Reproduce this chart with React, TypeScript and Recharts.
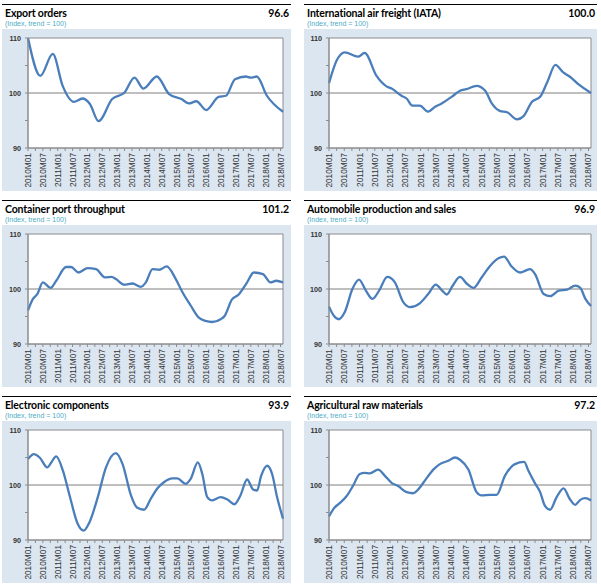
import React from "react";
import {
  CartesianGrid,
  Line,
  LineChart,
  ReferenceArea,
  ReferenceLine,
  XAxis,
  YAxis,
} from "recharts";

// [month index from 2010M01, index value]
const exportOrders: [number, number][] = [
  [0, 110], [5, 103.1], [10, 107.1], [14, 101.3], [18.5, 98.4], [22, 99.0],
  [25, 98.0], [28.5, 94.9], [34, 98.9], [39, 100.1], [43, 102.8], [46.6, 100.8],
  [52, 103.0], [57, 99.8], [62, 98.9], [65, 98.1], [68, 98.5], [72, 96.9],
  [77, 99.3], [80, 99.5], [83.6, 102.5], [88, 103.0], [90, 102.8], [92.4, 103.0],
  [96.5, 99.5], [103, 96.6],
];

const airFreight: [number, number][] = [
  [0, 101.8], [3, 105.9], [6.2, 107.4], [11.4, 106.6], [14, 107.3], [18.7, 103.1],
  [22.6, 101.2], [24.6, 100.8], [28.5, 99.5], [30.5, 99.0], [32.8, 97.7],
  [35.7, 97.7], [39, 96.6], [41.7, 97.5], [44.3, 98.1], [48.2, 99.3], [51.5, 100.4],
  [54, 100.7], [58, 101.3], [61.4, 100.4], [64, 98.1], [67.3, 96.7], [70, 96.5],
  [73.9, 95.2], [76.5, 95.8], [79.8, 98.4], [83, 99.3], [86, 102.2], [89, 105.1],
  [92.2, 103.7], [94.6, 103.0], [98, 101.6], [103, 100.0],
];

const containerPorts: [number, number][] = [
  [0, 96.1], [2, 98.2], [3.8, 99.1], [6, 101.2], [9.1, 100.2], [11.4, 101.5],
  [15.4, 104.0], [17.4, 104.0], [20.4, 103.0], [24.1, 103.8], [27.5, 103.6],
  [31.1, 102.1], [33.8, 102.2], [35.5, 101.8], [38.9, 100.8], [42.2, 101.0],
  [45.6, 100.4], [47.6, 101.2], [50.3, 103.6], [53, 103.5], [56, 104.1],
  [59.7, 101.8], [62.4, 99.4], [65.7, 97.0], [69, 94.8], [71.7, 94.2], [74.4, 94.0],
  [77.8, 94.5], [79.4, 95.1], [82.4, 98.1], [85.1, 99.0], [88.5, 101.2],
  [91.2, 103.0], [94.9, 102.7], [97.9, 101.2], [100.3, 101.5], [103, 101.2],
];

const automobiles: [number, number][] = [
  [0, 96.8], [1.8, 95.2], [3.9, 94.5], [6.2, 95.8], [9.2, 100.0], [11.8, 101.7],
  [14.5, 99.7], [17.1, 98.2], [19.7, 99.7], [22.9, 102.2], [25.9, 101.2],
  [29.2, 97.6], [31.8, 96.7], [35.7, 97.4], [39, 99.1], [42, 100.8], [44.3, 99.8],
  [46.3, 99.0], [48.6, 100.6], [51.5, 102.2], [54.1, 101.0], [56.8, 100.2],
  [60, 102.1], [63.3, 104.2], [66.6, 105.6], [68.8, 105.9], [71.8, 104.1],
  [75.1, 103.0], [79, 103.6], [81, 102.7], [84.4, 99.1], [87, 98.7], [90.3, 99.7],
  [93.6, 99.9], [96.8, 100.6], [98.8, 100.2], [100.8, 98.2], [103, 96.9],
];

const electronics: [number, number][] = [
  [0, 104.7], [2.4, 105.6], [4.7, 105.0], [7.8, 103.2], [9.4, 104.1], [11.4, 105.2],
  [14.1, 102.6], [16.8, 98.1], [20.1, 92.9], [22.5, 91.7], [24.8, 93.2],
  [28.2, 97.8], [31.5, 103.2], [35.5, 105.8], [38.2, 103.8], [41.6, 98.1],
  [44, 95.9], [46.9, 95.5], [49.6, 97.5], [52.3, 99.4], [54.9, 100.5], [58.3, 101.2],
  [60.3, 101.2], [63.7, 100.2], [65.7, 101.1], [68.6, 104.1], [70.4, 102.0],
  [72.4, 97.8], [74.4, 97.2], [77.8, 97.8], [80.7, 97.3], [83.4, 96.5], [85.8, 98.1],
  [88.5, 101.0], [90.9, 99.2], [92.5, 99.0], [94.2, 101.7], [96.6, 103.5],
  [98.6, 102.0], [100.6, 97.8], [103, 93.9],
];

const agriculture: [number, number][] = [
  [0, 94.3], [2.2, 95.9], [4.2, 96.7], [6.8, 97.9], [9.5, 99.9], [12.1, 102.0],
  [14, 102.2], [16, 102.1], [19.3, 102.8], [21.9, 101.7], [24.6, 100.4],
  [27.2, 99.8], [30.5, 98.7], [33.1, 98.5], [35.1, 99.2], [37.7, 100.8], [41, 102.8],
  [43.6, 103.8], [46.9, 104.4], [49.5, 105.0], [51.5, 104.6], [54.8, 102.8],
  [58, 98.7], [60, 98.1], [63.3, 98.2], [65.9, 98.2], [69.2, 101.7], [73.1, 103.8],
  [76.7, 104.2], [78.4, 102.6], [81, 100.3], [83, 98.7], [84.9, 96.2], [86.9, 95.5],
  [89.5, 97.8], [92.2, 99.4], [94.6, 97.5], [96.8, 96.4], [98.8, 97.3],
  [100.8, 97.6], [103, 97.2],
];

const tickLabels = [
  "2010M01", "2010M07", "2011M01", "2011M07", "2012M01", "2012M07",
  "2013M01", "2013M07", "2014M01", "2014M07", "2015M01", "2015M07",
  "2016M01", "2016M07", "2017M01", "2017M07", "2018M01", "2018M07",
];
const xTicks = Array.from({ length: 35 }, (_, i) => i * 3);
const yTicks = [90, 95, 100, 105, 110];

const panels = [
  { title: "Export orders", latest: "96.6", data: exportOrders },
  { title: "International air freight (IATA)", latest: "100.0", data: airFreight },
  { title: "Container port throughput", latest: "101.2", data: containerPorts },
  { title: "Automobile production and sales", latest: "96.9", data: automobiles },
  { title: "Electronic components", latest: "93.9", data: electronics },
  { title: "Agricultural raw materials", latest: "97.2", data: agriculture },
];

const AXIS = "#8c8c8c";

const XTick = (props: any) => {
  const { x, y, payload } = props;
  const v = payload.value;
  if (v % 6 !== 0) return <g />;
  return (
    <text
      transform={`translate(${x + 3},${y}) rotate(-90)`}
      textAnchor="end"
      fontSize={8.3}
      fill="#333"
      fontFamily="'Liberation Sans', Arial, sans-serif"
    >
      {tickLabels[v / 6]}
    </text>
  );
};

const YTick = (props: any) => {
  const { x, y, payload } = props;
  if (payload.value % 10 !== 0) return <g />;
  return (
    <text
      x={x - 2}
      y={y}
      dy="0.35em"
      textAnchor="end"
      fontSize={7.2}
      fontWeight="bold"
      fill="#333"
      fontFamily="'Liberation Sans', Arial, sans-serif"
    >
      {payload.value}
    </text>
  );
};

function Panel({ p, col, row }: { p: (typeof panels)[number]; col: number; row: number }) {
  const left = col === 0 ? 2 : 304;
  const width = col === 0 ? 289 : 293;
  const yAxisW = col === 0 ? 26 : 25;
  const rightM = col === 0 ? 8 : 6;
  const top = 4 + row * 196;
  const rows = p.data.map(([m, v]) => ({ m, v }));

  return (
    <div style={{ position: "absolute", left, top, width }}>
      <div
        style={{
          borderTop: "1.3px solid #000",
          height: 24,
          position: "relative",
          fontFamily: "Lato, sans-serif",
        }}
      >
        <div
          style={{
            position: "absolute",
            left: 3,
            top: 2,
            fontSize: 10.5,
            fontWeight: 700,
            letterSpacing: -0.15,
            color: "#000",
          }}
        >
          {p.title}
        </div>
        <div
          style={{
            position: "absolute",
            right: 2,
            top: 2,
            fontSize: 10.5,
            fontWeight: 700,
            color: "#000",
          }}
        >
          {p.latest}
        </div>
        <div
          style={{
            position: "absolute",
            left: 3,
            top: 15,
            fontSize: 7,
            color: "#4bacc6",
            fontFamily: "'Liberation Sans', Arial, sans-serif",
          }}
        >
          (Index, trend = 100)
        </div>
      </div>
      <div style={{ background: "#dce6f1", width, height: 162 }}>
        <LineChart
          width={width}
          height={162}
          data={rows}
          margin={{ top: 9, right: rightM, left: 0, bottom: 0 }}
        >
          <CartesianGrid horizontal={false} vertical={false} fill="#fff" />
          <XAxis
            dataKey="m"
            type="number"
            domain={[0, 103]}
            ticks={xTicks}
            interval={0}
            height={43}
            tickSize={3}
            stroke={AXIS}
            tick={<XTick />}
          />
          <YAxis
            type="number"
            domain={[90, 110]}
            ticks={yTicks}
            interval={0}
            width={yAxisW}
            tickSize={3}
            stroke={AXIS}
            tick={<YTick />}
          />
          <ReferenceArea
            x1={0}
            x2={103}
            y1={90}
            y2={110}
            fill="none"
            stroke={AXIS}
            strokeWidth={1}
          />
          <ReferenceLine y={100} stroke="#7f7f7f" strokeWidth={1} />
          <Line
            dataKey="v"
            type="monotone"
            stroke="#4a7ebb"
            strokeWidth={2.3}
            dot={false}
            isAnimationActive={false}
          />
        </LineChart>
      </div>
    </div>
  );
}

export default function App() {
  return (
    <div
      style={{
        position: "absolute",
        left: 0,
        top: 0,
        width: 601,
        height: 584,
        background: "#fff",
      }}
    >
      {panels.map((p, i) => (
        <Panel key={p.title} p={p} col={i % 2} row={Math.floor(i / 2)} />
      ))}
    </div>
  );
}
